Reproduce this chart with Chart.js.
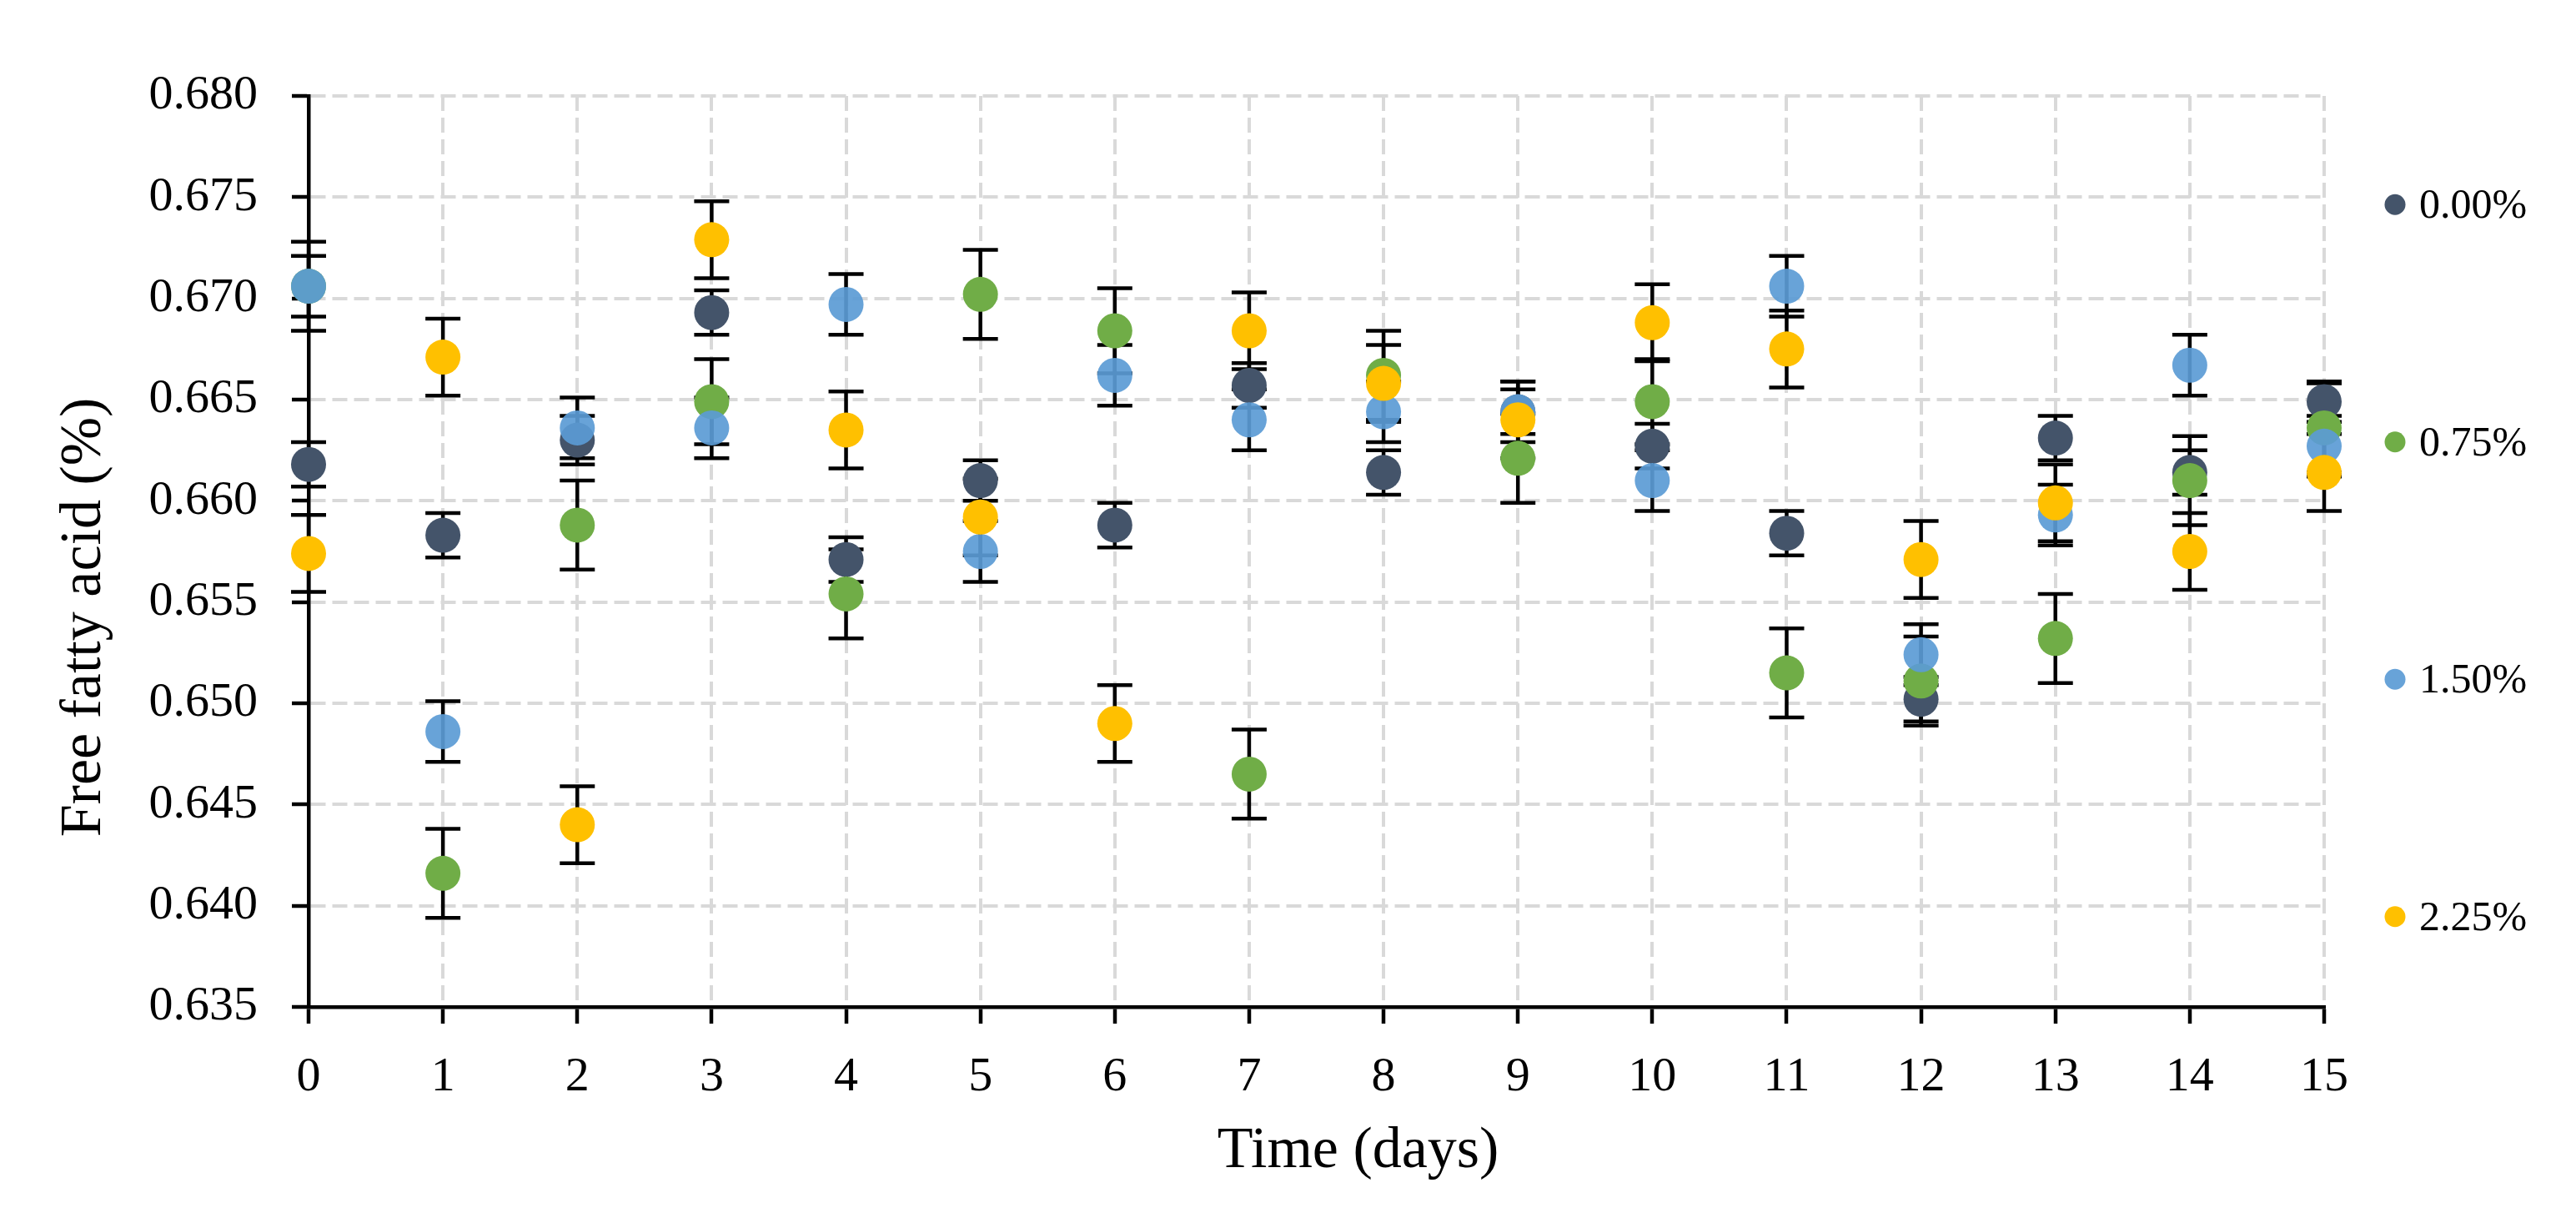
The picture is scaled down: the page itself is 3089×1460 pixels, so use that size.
<!DOCTYPE html>
<html lang="en">
<head>
<meta charset="UTF-8">
<title>Free fatty acid</title>
<style>
  body { margin:0; padding:0; background:#fff; }
  #wrap { width:3089px; height:1460px; position:relative; }
</style>
</head>
<body>
<div id="wrap"><canvas id="ffaChart"></canvas></div>

<script src="https://cdn.jsdelivr.net/npm/chart.js"></script>
<script>
// data
const days = [0,1,2,3,4,5,6,7,8,9,10,11,12,13,14,15];
const seriesNames = ["0.00%","0.75%","1.50%","2.25%"];
const seriesColors = ["#44546A","#70AD47","rgba(91,155,213,0.92)","#FFC000"];

const ffa000 = [0.6618,0.6583,0.6630,0.6693,0.6571,0.6610,0.6588,0.6657,0.6614,0.6644,0.6627,0.6584,0.6502,0.6631,0.6614,0.6649];
const ffa075 = [0.6706,0.6416,0.6588,0.6649,0.6554,0.6702,0.6684,0.6465,0.6662,0.6621,0.6649,0.6515,0.6511,0.6532,0.6610,0.6636];
const ffa150 = [0.6706,0.6486,0.6636,0.6636,0.6697,0.6575,0.6662,0.6640,0.6644,0.6644,0.6610,0.6706,0.6524,0.6593,0.6667,0.6627];
const ffa225 = [0.6574,0.6671,0.6440,0.6729,0.6635,0.6592,0.6490,0.6684,0.6658,0.6640,0.6688,0.6675,0.6571,0.6599,0.6575,0.6614];

const err000 = [0.0011,0.0011,0.0012,0.0011,0.0011,0.0010,0.0011,0.0011,0.0011,0.0011,0.0011,0.0011,0.0011,0.0011,0.0011,0.0010];
const err075 = [0.0022,0.0022,0.0022,0.0021,0.0022,0.0022,0.0021,0.0022,0.0022,0.0022,0.0021,0.0022,0.0022,0.0022,0.0022,0.0022];
const err150 = [0.0015,0.0015,0.0015,0.0015,0.0015,0.0015,0.0015,0.0015,0.0015,0.0015,0.0015,0.0015,0.0015,0.0015,0.0015,0.0015];
const err225 = [0.0019,0.0019,0.0019,0.0019,0.0019,0.0019,0.0019,0.0019,0.0019,0.0019,0.0019,0.0019,0.0019,0.0019,0.0019,0.0019];

const yTicks = [0.635,0.640,0.645,0.650,0.655,0.660,0.665,0.670,0.675,0.680];
const xTitle = "Time (days)";
const yTitle = "Free fatty acid (%)";

const allValues = [ffa000, ffa075, ffa150, ffa225];
const allErrors = [err000, err075, err150, err225];

const FONT = '"Liberation Serif", "Times New Roman", serif';
Chart.defaults.font.family = FONT;
Chart.defaults.color = '#000';

const datasets = allValues.map((vals, k) => ({
  label: seriesNames[k],
  data: vals.map((v, i) => ({ x: days[i], y: v })),
  errors: allErrors[k],
  backgroundColor: seriesColors[k],
  borderWidth: 0,
  pointRadius: 21,
  pointHoverRadius: 21,
  order: 4 - k,   // later series drawn on top
  clip: false
}));

// error bars under the markers
const errorBars = {
  id: 'errorBars',
  beforeDatasetsDraw(chart) {
    const { ctx, scales: { x, y } } = chart;
    ctx.save();
    ctx.strokeStyle = '#000';
    ctx.lineWidth = 4.5;
    chart.data.datasets.forEach(ds => {
      ds.data.forEach((p, i) => {
        const e = ds.errors[i];
        const px = x.getPixelForValue(p.x);
        const top = y.getPixelForValue(p.y + e);
        const bot = y.getPixelForValue(p.y - e);
        ctx.beginPath();
        ctx.moveTo(px, top); ctx.lineTo(px, bot);
        ctx.moveTo(px - 21, top); ctx.lineTo(px + 21, top);
        ctx.moveTo(px - 21, bot); ctx.lineTo(px + 21, bot);
        ctx.stroke();
      });
    });
    ctx.restore();
  }
};

// axis titles and the spread-out legend on the right
const extras = {
  id: 'extras',
  afterDraw(chart) {
    const { ctx, chartArea: a } = chart;
    ctx.save();
    ctx.fillStyle = '#000';
    ctx.font = '70px ' + FONT;
    ctx.textAlign = 'center';
    ctx.textBaseline = 'alphabetic';
    ctx.fillText(xTitle, (a.left + a.right) / 2 + 50, a.bottom + 192);

    ctx.save();
    ctx.translate(120, (a.top + a.bottom) / 2 + 79);
    ctx.rotate(-Math.PI / 2);
    ctx.fillText(yTitle, 0, 0);
    ctx.restore();

    ctx.font = '50px ' + FONT;
    ctx.textAlign = 'left';
    const mid = (a.top + a.bottom) / 2 + 11;
    chart.data.datasets.forEach((ds, k) => {
      const cy = mid + (k - 1.5) * 284.5;
      ctx.fillStyle = ds.backgroundColor;
      ctx.beginPath();
      ctx.arc(a.right + 85, cy, 12.5, 0, Math.PI * 2);
      ctx.fill();
      ctx.fillStyle = '#000';
      ctx.fillText(ds.label, a.right + 114, cy + 16);
    });
    ctx.restore();
  }
};

const gridOpts = {
  color: '#d9d9d9',
  lineWidth: 4,
  tickColor: '#000',
  tickLength: 20,
  tickWidth: 4.5
};
const borderOpts = { color: '#000', width: 4.5, dash: [18, 8] };

new Chart(document.getElementById('ffaChart'), {
  type: 'scatter',
  data: { datasets },
  plugins: [errorBars, extras],
  options: {
    responsive: true,
    maintainAspectRatio: false,
    devicePixelRatio: 1,
    animation: false,
    layout: { padding: { top: 115, right: 302, bottom: 0, left: 0 } },
    plugins: { legend: { display: false }, tooltip: { enabled: false } },
    scales: {
      x: {
        type: 'linear',
        min: days[0],
        max: days[days.length - 1],
        ticks: { stepSize: 1, padding: 30, font: { size: 58 } },
        grid: gridOpts,
        border: borderOpts,
        afterFit: s => { s.height = 253; }
      },
      y: {
        type: 'linear',
        min: yTicks[0],
        max: yTicks[yTicks.length - 1],
        afterBuildTicks: s => { s.ticks = yTicks.map(v => ({ value: v })); },
        ticks: { padding: 41, font: { size: 58 }, callback: v => v.toFixed(3) },
        grid: gridOpts,
        border: borderOpts,
        afterFit: s => { s.width = 370; }
      }
    }
  }
});
</script>
</body>
</html>
